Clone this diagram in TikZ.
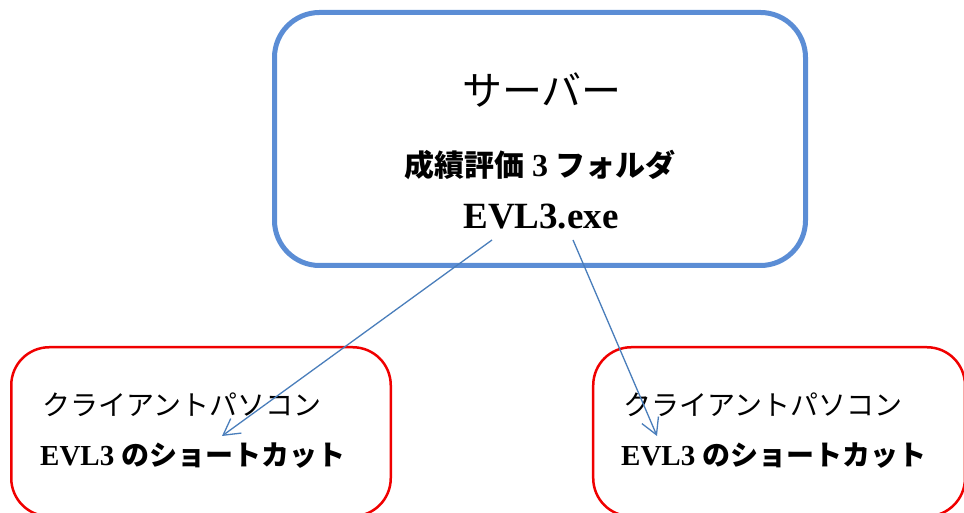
\documentclass[tikz,border=0pt]{standalone}
\usepackage{fontspec}
\setmainfont{Liberation Serif}
\newfontfamily\cjk{Noto Sans CJK JP}
\usetikzlibrary{arrows.meta}
\definecolor{boxblue}{RGB}{91,141,213}
\definecolor{arrowblue}{RGB}{74,126,187}
\definecolor{boxred}{RGB}{240,0,0}
\begin{document}
\begin{tikzpicture}[x=1pt,y=1pt,
  serverbox/.style={draw=boxblue,line width=5pt,rounded corners=45pt,minimum width=531pt,minimum height=253pt,inner sep=0pt},
  clientbox/.style={draw=boxred,line width=2.5pt,rounded corners=38pt,minimum width=379.5pt,minimum height=169pt,inner sep=0pt},
  link/.style={draw=arrowblue,line width=1.3pt,-{Straight Barb[length=16pt,width=18pt,line width=1.3pt]}},
  label/.style={inner sep=0pt,text=black},
  big/.style={font=\fontsize{40pt}{48pt}\selectfont},
  mid/.style={font=\fontsize{30pt}{36pt}\selectfont\bfseries},
  exe/.style={font=\fontsize{37pt}{44pt}\selectfont\bfseries},
  small/.style={font=\fontsize{28pt}{34pt}\selectfont},
  smallbf/.style={font=\fontsize{28pt}{34pt}\selectfont\bfseries}]
\clip (0,0) rectangle (964,513);
\useasboundingbox (0,0) rectangle (964,513);
\node[serverbox] (server) at (540,374) {};
\node[clientbox] (left) at (201,81.25) {};
\node[clientbox,minimum width=371.75pt] (right) at (779.1,81.25) {};
\node[label,big] (srvtxt) at (542,423) {\cjk サーバー};
\node[label,mid] (folder) at (540,348) {{\cjk 成績評価} {\fontsize{32pt}{36pt}\selectfont 3} {\cjk フォルダ}};
\node[label,exe] (exefile) at (541,296) {EVL3.exe};
\node[label,small,anchor=west] (c1a) at (42,108) {\cjk クライアントパソコン};
\node[label,smallbf,anchor=west] (c1b) at (40,57) {{\fontsize{29pt}{34pt}\selectfont EVL3} {\cjk のショートカット}};
\node[label,small,anchor=west] (c2a) at (623,108) {\cjk クライアントパソコン};
\node[label,smallbf,anchor=west] (c2b) at (621,57) {{\fontsize{29pt}{34pt}\selectfont EVL3} {\cjk のショートカット}};
\coordinate (s1) at (492,273);
\coordinate (e1) at (222,77);
\coordinate (s2) at (573,273);
\coordinate (e2) at (657,77);
\draw[link] (s1) -- (e1);
\draw[link] (s2) -- (e2);
\end{tikzpicture}
\end{document}
